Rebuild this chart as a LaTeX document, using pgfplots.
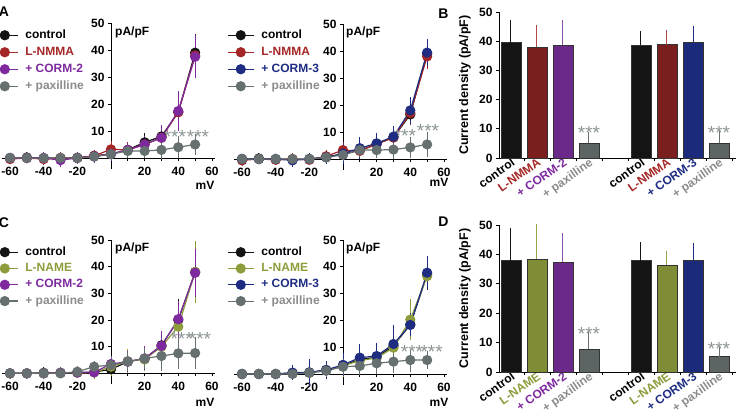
\documentclass[border=0pt]{standalone}
\usepackage{pgfplots}
\pgfplotsset{compat=1.18}
\usepackage{fontspec}
\setmainfont{Liberation Sans}

\newcommand\fs[1]{\fontsize{#1}{#1}\selectfont}

% series colours
\definecolor{ctrl}{HTML}{141414}
\definecolor{lnmma}{HTML}{A52626}
\definecolor{lnmmabar}{HTML}{7A1E1E}
\definecolor{lnmmaerr}{HTML}{B04848}
\definecolor{cormtwo}{HTML}{7E2A9E}
\definecolor{cormtwobar}{HTML}{6B2A8A}
\definecolor{cormtwoerr}{HTML}{9050B0}
\definecolor{cormthree}{HTML}{1E2C82}
\definecolor{cormthreebar}{HTML}{1C2A7C}
\definecolor{lname}{HTML}{8E9C3C}
\definecolor{lnamebar}{HTML}{808C36}
\definecolor{lnameerr}{HTML}{98A44C}
\definecolor{pax}{HTML}{677070}
\definecolor{paxbar}{HTML}{5C6464}
\definecolor{paxtext}{HTML}{8A8C8C}
\definecolor{starc}{HTML}{8C9494}

\tikzset{stars/.style={font=\fs{19}, text=starc, inner sep=0pt, anchor=base}}

\pgfplotsset{
  iv/.style={
    scale only axis, width=213.7pt,
    xmin=-65, xmax=62, ymin=-4, ymax=50,
    axis lines=middle,
    axis line style={-, line width=0.8pt},
    every inner x axis line/.append style={-},
    every inner y axis line/.append style={-},
    xtick={-60,-50,-40,-30,-20,-10,10,20,30,40,50,60},
    xticklabels={-60,,-40,,-20,,,20,,40,,60},
    ytick={10,20,30,40,50},
    tick align=outside, major tick length=3pt,
    tick style={line width=0.8pt, black},
    ticklabel style={font=\fs{12}\bfseries},
    xticklabel shift=2.5pt,
    /pgf/number format/assume math mode=true,
    clip=false,
    legend cell align=left,
    legend image code/.code={\draw[mark repeat=2,mark phase=2] plot coordinates {(0pt,0pt)(13pt,0pt)(26pt,0pt)};},
    legend style={draw=none, fill=none, anchor=north west, font=\fs{12}\bfseries,
      inner sep=0pt, column sep=7pt, row sep=6pt,
      nodes={inner sep=0pt, text height=8.6pt, text depth=2.4pt}},
  },
  ivplot/.style={color=#1, line width=1.2pt, mark=*, mark size=4.5pt,
    mark options={solid, fill=#1},
    error bars/.cd, y dir=both, y explicit,
    error bar style={line width=0.8pt, color=#1},
    error mark options={line width=0.8pt, mark size=4pt, color=#1}},
  bars/.style={
    scale only axis, width=236.9pt,
    xmin=-0.46, xmax=8.65, ymin=0, ymax=50,
    axis lines=left,
    axis line style={-, line width=0.8pt},
    every outer x axis line/.append style={-},
    every outer y axis line/.append style={-},
    ytick={0,10,20,30,40,50},
    xtick={0.5,1.5,2.5,3.5,4.5,5.5,6.5,7.5,8.5}, xticklabels={},
    extra x ticks={0,1,2,3,5,6,7,8},
    extra x tick style={major tick length=0pt, xticklabel shift=-2pt,
      xticklabel style={rotate=35, anchor=north east, inner sep=1pt, font=\fs{12}\bfseries}},
    tick align=outside, major tick length=3pt,
    tick style={line width=0.8pt, black},
    ticklabel style={font=\fs{12}\bfseries},
    /pgf/number format/assume math mode=true,
    ylabel={Current density (pA/pF)},
    ylabel style={font=\fs{12.5}\bfseries, at={(axis description cs:-0.144,0.5)}, anchor=center},
    clip=false,
  },
  bar/.style n args={2}{ybar, bar width=20pt, bar shift=0pt, fill=#1, draw=black!80, line width=0.5pt,
    error bars/.cd, y dir=plus, y explicit,
    error bar style={line width=1pt, color=#2},
    error mark options={line width=1pt, mark size=5pt, color=#2}},
}

\begin{document}
\begin{tikzpicture}
\useasboundingbox (0pt,0pt) rectangle (738pt,413pt);

% ---------------- A, left: L-NMMA + CORM-2 ----------------
\begin{axis}[iv, at={(1.6pt,244.2pt)}, anchor=south west, height=145.8pt,
  legend style={at={(axis description cs:-0.0496,0.955)}}]
\addplot[ivplot=ctrl] table[y error=e]{
x y e
-60 0 0.5
-50 0.2 0.5
-40 0 0.5
-30 0 0.6
-20 0.1 0.5
-10 0.8 0.8
0 1.5 1
10 3 1.5
20 5.8 1.8
30 8 2.8
40 17 5
50 39 5.5
};
\addlegendentry{control}
\addplot[ivplot=lnmma] table[y error=e]{
x y e
-60 -0.4 0.5
-50 0 0.5
-40 -0.4 0.6
-30 0 0.8
-20 0 0.5
-10 0.8 0.8
0 3.2 1.5
10 3 1.5
20 5 1.5
30 7.5 2.5
40 17 5.5
50 38 6
};
\addlegendentry{\textcolor{lnmma}{L-NMMA}}
\addplot[ivplot=cormtwo] table[y error=e]{
x y e
-60 0 0.5
-50 0 0.5
-40 0 0.6
-30 -0.8 1.2
-20 0 0.6
-10 0.6 0.8
0 1.5 1
10 3 1.2
20 5 1.5
30 7.5 3.2
40 17.4 5.8
50 37.5 6.5
};
\addlegendentry{\textcolor{cormtwo}{+ CORM-2}}
\addplot[ivplot=pax] table[y error=e]{
x y e
-60 0 0.4
-50 0 0.4
-40 0 0.4
-30 0 0.4
-20 0 0.4
-10 0.5 0.5
0 1.4 0.8
10 2.6 1
20 2.6 1.2
30 3 2
40 4 2.5
50 5 2.5
};
\addlegendentry{\textcolor{paxtext}{+ paxilline}}
\node[stars] at (axis cs:38,5.2) {***};
\node[stars] at (axis cs:51.7,5.2) {***};
\end{axis}

% ---------------- A, right: L-NMMA + CORM-3 ----------------
\begin{axis}[iv, at={(233.6pt,243.2pt)}, anchor=south west, height=145.8pt,
  legend style={at={(axis description cs:-0.031,0.962)}}]
\addplot[ivplot=ctrl] table[y error=e]{
x y e
-60 0 0.5
-50 0.2 0.5
-40 0 0.5
-30 -0.2 0.5
-20 0 0.5
-10 0.8 0.8
0 1.8 1
10 3.2 1.5
20 5.5 2
30 8 2.5
40 16.5 2.5
50 39 3.5
};
\addlegendentry{control}
\addplot[ivplot=lnmma] table[y error=e]{
x y e
-60 -0.5 0.5
-50 0 0.5
-40 -0.3 0.5
-30 0 0.6
-20 -0.3 0.6
-10 1 0.8
0 3.3 1.5
10 3 1.5
20 5.5 1.8
30 8 2.5
40 17 3
50 38 3
};
\addlegendentry{\textcolor{lnmma}{L-NMMA}}
\addplot[ivplot=cormthree] table[y error=e]{
x y e
-60 0 0.5
-50 0 0.5
-40 0 0.5
-30 -0.5 0.8
-20 0 0.6
-10 0.6 0.8
0 2 2.5
10 4 2.7
20 5.8 2.5
30 8.3 2.5
40 18 3.5
50 39.4 3.4
};
\addlegendentry{\textcolor{cormthree}{+ CORM-3}}
\addplot[ivplot=pax] table[y error=e]{
x y e
-60 0 0.4
-50 0 0.4
-40 0 0.4
-30 0 0.4
-20 0 0.4
-10 0.6 0.5
0 1.5 0.8
10 3.3 1
20 3.3 1.5
30 3.5 2
40 4.3 2.5
50 5.4 3
};
\addlegendentry{\textcolor{paxtext}{+ paxilline}}
\node[stars] at (axis cs:36.8,6.1) {***};
\node[stars] at (axis cs:50.5,7.9) {***};
\end{axis}

% ---------------- B: bar summary ----------------
\begin{axis}[bars, at={(499pt,255pt)}, anchor=south west, height=146pt,
  extra x tick labels={control, \textcolor{lnmma}{L-NMMA}, \textcolor{cormtwo}{+ CORM-2}, \textcolor{paxtext}{+ paxilline},
    control, \textcolor{lnmma}{L-NMMA}, \textcolor{cormthree}{+ CORM-3}, \textcolor{paxtext}{+ paxilline}}]
\addplot[bar={ctrl}{ctrl}] coordinates {(0,39.5) +- (0,6)};
\addplot[bar={lnmmabar}{lnmmaerr}] coordinates {(1,37.9) +- (0,6.1)};
\addplot[bar={cormtwobar}{cormtwoerr}] coordinates {(2,38.7) +- (0,6.8)};
\addplot[bar={paxbar}{pax}] coordinates {(3,5.0) +- (0,2.3)};
\addplot[bar={ctrl}{ctrl}] coordinates {(5,38.7) +- (0,3.1)};
\addplot[bar={lnmmabar}{lnmmaerr}] coordinates {(6,38.8) +- (0,3.2)};
\addplot[bar={cormthreebar}{cormthree}] coordinates {(7,39.8) +- (0,3.7)};
\addplot[bar={paxbar}{pax}] coordinates {(8,5.0) +- (0,2.9)};
\node[stars] at (axis cs:3,6.4) {***};
\node[stars] at (axis cs:8,6.4) {***};
\end{axis}

% ---------------- C, left: L-NAME + CORM-2 ----------------
\begin{axis}[iv, at={(1.6pt,29.0pt)}, anchor=south west, height=144pt,
  legend style={at={(axis description cs:-0.0496,0.955)}, row sep=5.3pt}]
\addplot[ivplot=ctrl] table[y error=e]{
x y e
-60 0 0.5
-50 0 0.5
-40 0.2 0.5
-30 0.2 0.5
-20 0.3 0.5
-10 0.5 0.8
0 1.5 1.5
10 4.4 2.5
20 5.5 2.5
30 10.5 4
40 20 6.5
50 38 9.5
};
\addlegendentry{control}
\addplot[ivplot=lname] table[y error=e]{
x y e
-60 0 0.5
-50 0 0.5
-40 0 0.5
-30 0.2 0.5
-20 0.2 0.5
-10 0.3 0.8
0 2.5 2
10 4.5 3
20 5.2 3
30 10 4
40 17.5 5.5
50 38 10
};
\addlegendentry{\textcolor{lname}{L-NAME}}
\addplot[ivplot=cormtwo] table[y error=e]{
x y e
-60 0 0.5
-50 0 0.5
-40 0 0.5
-30 0.2 0.5
-20 0.3 0.5
-10 0.4 0.8
0 3.5 1.5
10 4.4 2.5
20 5.6 3
30 10.3 4
40 20.3 5.5
50 37.7 7.5
};
\addlegendentry{\textcolor{cormtwo}{+ CORM-2}}
\addplot[ivplot=pax] table[y error=e]{
x y e
-60 0 0.4
-50 0 0.4
-40 0 0.4
-30 0 0.4
-20 0.6 0.5
-10 2.5 0.8
0 3.1 1.5
10 4.4 2
20 5.6 2.5
30 6.5 4
40 7.5 4.5
50 7.6 4.5
};
\addlegendentry{\textcolor{paxtext}{+ paxilline}}
\node[stars] at (axis cs:42,10.3) {***};
\node[stars] at (axis cs:52.9,10.3) {***};
\end{axis}

% ---------------- C, right: L-NAME + CORM-3 ----------------
\begin{axis}[iv, at={(233.6pt,28.3pt)}, anchor=south west, height=144.7pt,
  legend style={at={(axis description cs:-0.031,0.955)}, row sep=5.3pt}]
\addplot[ivplot=ctrl] table[y error=e]{
x y e
-60 0 0.5
-50 0 0.5
-40 0 0.5
-30 0.3 0.6
-20 0.5 0.8
-10 1.5 1.2
0 3 2
10 5.5 3
20 6.2 3
30 10.5 5
40 18.5 3
50 37 4
};
\addlegendentry{control}
\addplot[ivplot=lname] table[y error=e]{
x y e
-60 0 0.5
-50 0 0.5
-40 0 0.5
-30 0.3 0.6
-20 0.5 0.8
-10 1.3 1.2
0 3 2.5
10 5 3
20 6 3
30 9.8 4.5
40 20.3 6.3
50 36.5 3
};
\addlegendentry{\textcolor{lname}{L-NAME}}
\addplot[ivplot=cormthree] table[y error=e]{
x y e
-60 0 0.5
-50 0 0.5
-40 0 0.5
-30 0.5 1.2
-20 0.6 3.5
-10 1.5 2
0 3.4 2.8
10 6.1 3.5
20 6.7 3.5
30 11.2 5.7
40 18.3 2.8
50 37.8 4.6
};
\addlegendentry{\textcolor{cormthree}{+ CORM-3}}
\addplot[ivplot=pax] table[y error=e]{
x y e
-60 0 0.4
-50 0 0.4
-40 0 0.4
-30 0 0.4
-20 0.4 0.5
-10 1.2 1
0 2.7 1.5
10 3 2
20 4 2.5
30 4.6 2.8
40 5.2 2.8
50 5.2 1.8
};
\addlegendentry{\textcolor{paxtext}{+ paxilline}}
\node[stars] at (axis cs:41,5.6) {***};
\node[stars] at (axis cs:52.7,5.6) {***};
\end{axis}

% ---------------- D: bar summary ----------------
\begin{axis}[bars, at={(499pt,41pt)}, anchor=south west, height=147pt,
  extra x tick labels={control, \textcolor{lname}{L-NAME}, \textcolor{cormtwo}{+ CORM-2}, \textcolor{paxtext}{+ paxilline},
    control, \textcolor{lname}{L-NAME}, \textcolor{cormthree}{+ CORM-3}, \textcolor{paxtext}{+ paxilline}}]
\addplot[bar={ctrl}{ctrl}] coordinates {(0,37.9) +- (0,9.5)};
\addplot[bar={lnamebar}{lnameerr}] coordinates {(1,38.3) +- (0,10.2)};
\addplot[bar={cormtwobar}{cormtwoerr}] coordinates {(2,37.5) +- (0,8)};
\addplot[bar={paxbar}{pax}] coordinates {(3,7.8) +- (0,4.2)};
\addplot[bar={ctrl}{ctrl}] coordinates {(5,37.9) +- (0,4.5)};
\addplot[bar={lnamebar}{lnameerr}] coordinates {(6,36.4) +- (0,3.1)};
\addplot[bar={cormthreebar}{cormthree}] coordinates {(7,37.9) +- (0,4.2)};
\addplot[bar={paxbar}{pax}] coordinates {(8,5.2) +- (0,1.7)};
\node[stars] at (axis cs:3,10.6) {***};
\node[stars] at (axis cs:8,5.5) {***};
\end{axis}

% axis captions and panel letters
\begin{scope}[every node/.style={font=\fs{12}\bfseries, inner sep=0pt}]
\node[anchor=west] at (115pt,381pt) {pA/pF};
\node[anchor=west] at (346pt,381pt) {pA/pF};
\node[anchor=west] at (115pt,165pt) {pA/pF};
\node[anchor=west] at (346pt,165pt) {pA/pF};
\node at (205pt,228pt) {mV};
\node at (439pt,231pt) {mV};
\node at (205pt,11pt) {mV};
\node at (439pt,11pt) {mV};
\end{scope}
\begin{scope}[every node/.style={font=\fs{14}\bfseries, inner sep=0pt}]
\node at (4pt,401pt) {A};
\node at (443.5pt,399pt) {B};
\node at (4pt,190.5pt) {C};
\node at (443.5pt,191pt) {D};
\end{scope}
\end{tikzpicture}
\end{document}
